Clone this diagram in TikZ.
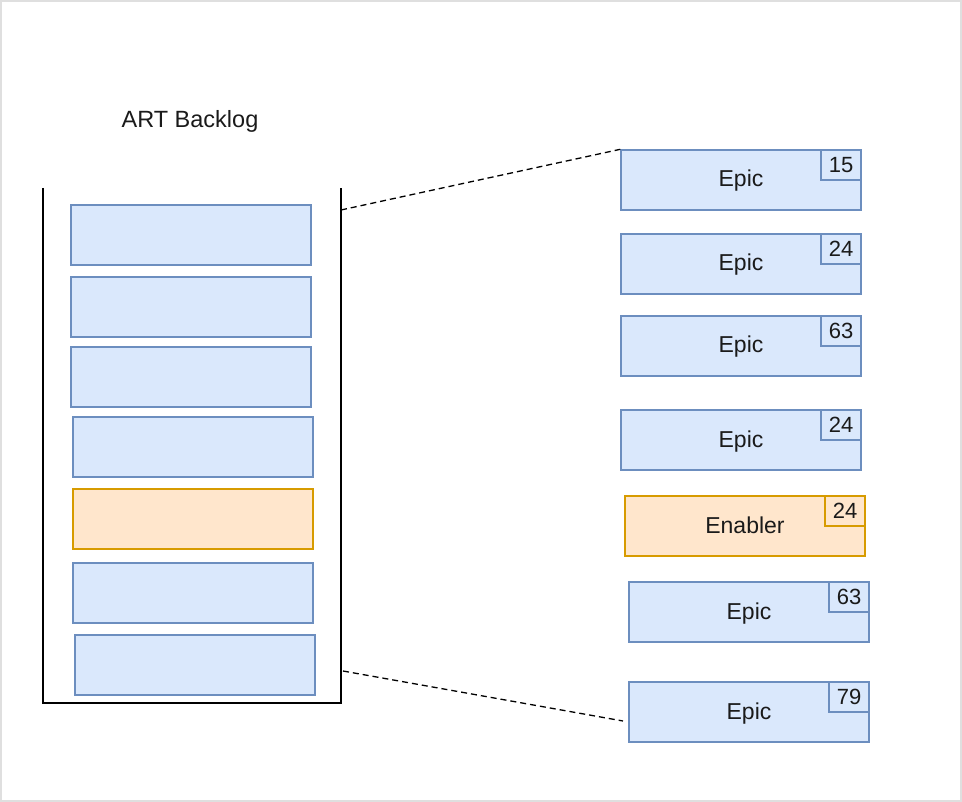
\documentclass[tikz,border=0pt]{standalone}
\usepackage{fontspec}
\setmainfont{Liberation Sans}
\definecolor{epicfill}{HTML}{DAE8FC}
\definecolor{epicline}{HTML}{6C8EBF}
\definecolor{enablerfill}{HTML}{FFE6CC}
\definecolor{enablerline}{HTML}{D79B00}
\definecolor{textcol}{HTML}{1A1A1A}
\tikzset{
    itembox/.style={line width=1.4pt, minimum width=240pt, minimum height=60pt, inner sep=0pt,
        text height=17pt, text depth=3pt, text=textcol, font=\fontsize{23}{27}\selectfont},
    epicbox/.style={itembox, draw=epicline, fill=epicfill},
    enablerbox/.style={itembox, draw=enablerline, fill=enablerfill},
    sizebox/.style={line width=1.4pt, minimum width=40pt, minimum height=30pt, inner sep=0pt,
        anchor=north east, text=textcol, font=\fontsize{22}{26}\selectfont}
}
\begin{document}
\begin{tikzpicture}[x=1pt, y=-1pt]
    \useasboundingbox (0,0) rectangle (962,802);
    \draw[gray!25, line width=1.5pt] (1,1) rectangle (961,801);

    % Backlog column
    \node[text=textcol, font=\fontsize{23.5}{27}\selectfont] (title) at (190,121) {ART Backlog};
    \draw[line width=2pt] (43,188) -- (43,703) -- (341,703) -- (341,188);
    \node[epicbox] (bl1) at (191,235) {};
    \node[epicbox] (bl2) at (191,307) {};
    \node[epicbox] (bl3) at (191,377) {};
    \node[epicbox] (bl4) at (193,447) {};
    \node[enablerbox] (bl5) at (193,519) {};
    \node[epicbox] (bl6) at (193,593) {};
    \node[epicbox] (bl7) at (195,665) {};

    % Zoomed items
    \node[epicbox] (ep1) at (741,180) {Epic};
    \node[epicbox] (ep2) at (741,264) {Epic};
    \node[epicbox] (ep3) at (741,346) {Epic};
    \node[epicbox] (ep4) at (741,440) {Epic};
    \node[enablerbox] (ep5) at (745,526) {Enabler};
    \node[epicbox] (ep6) at (749,612) {Epic};
    \node[epicbox] (ep7) at (749,712) {Epic};

    % Sizes
    \node[sizebox, draw=epicline, fill=epicfill] (sz1) at (ep1.north east) {15};
    \node[sizebox, draw=epicline, fill=epicfill] (sz2) at (ep2.north east) {24};
    \node[sizebox, draw=epicline, fill=epicfill] (sz3) at (ep3.north east) {63};
    \node[sizebox, draw=epicline, fill=epicfill] (sz4) at (ep4.north east) {24};
    \node[sizebox, draw=enablerline, fill=enablerfill] (sz5) at (ep5.north east) {24};
    \node[sizebox, draw=epicline, fill=epicfill] (sz6) at (ep6.north east) {63};
    \node[sizebox, draw=epicline, fill=epicfill] (sz7) at (ep7.north east) {79};

    % Zoom lines
    \coordinate (hi) at (341,210);
    \coordinate (lo) at (343,671);
    \coordinate (lo2) at (623,721);
    \draw[line width=1.3pt, dash pattern=on 6pt off 4pt] (hi) -- (ep1.north west);
    \draw[line width=1.3pt, dash pattern=on 6pt off 4pt] (lo) -- (lo2);
\end{tikzpicture}
\end{document}
